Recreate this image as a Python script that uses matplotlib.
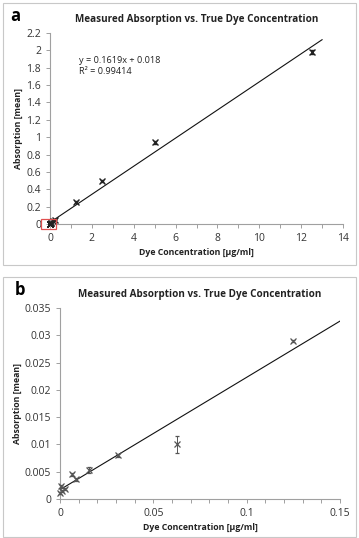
import numpy as np
import matplotlib.pyplot as plt
from matplotlib.patches import Rectangle

plt.rcParams['font.family'] = ['Open Sans', 'DejaVu Sans']

# panel b data (low concentrations)
conc_b = [0.125, 0.0625, 0.03125, 0.0156, 0.0086, 0.0062, 0.0027, 0.0012, 0.0008, 0.0002]
abs_b = [0.0290, 0.0100, 0.0080, 0.0053, 0.0036, 0.0045, 0.0019, 0.0015, 0.0023, 0.0011]
err_b = [0.0002, 0.0016, 0.0003, 0.0006, 0.0003, 0.0003, 0.0002, 0.0002, 0.0003, 0.0002]
fit_b = (0.206, 0.0017)

# panel a data (full range)
conc_a = [12.5, 5.0, 2.5, 1.25, 0.25] + conc_b
abs_a = [1.98, 0.94, 0.495, 0.25, 0.05] + abs_b
err_a = [0.02, 0.02, 0.015, 0.01, 0.005] + err_b
fit_a = (0.1619, 0.018)

title = "Measured Absorption vs. True Dye Concentration"
xlab = "Dye Concentration [µg/ml]"
ylab = "Absorption [mean]"

fig = plt.figure(figsize=(3.59, 5.38), dpi=100)

# panel borders
for (y0, h) in [(1 - 265 / 538, 262 / 538), (1 - 537 / 538, 260 / 538)]:
    fig.patches.append(Rectangle((3 / 359, y0), 353 / 359, h, transform=fig.transFigure,
                                 fill=False, edgecolor='#c8c8c8', lw=0.8))


def style(ax):
    for s in ['top', 'right']:
        ax.spines[s].set_visible(False)
    for s in ['left', 'bottom']:
        ax.spines[s].set_color('#a0a0a0')
        ax.spines[s].set_linewidth(0.8)
    ax.tick_params(which='both', direction='out', color='#a0a0a0', labelsize=7.5,
                   labelcolor='#333333', length=3, width=0.7)
    ax.set_title(title, fontsize=7.1, fontweight='bold', color='#222222', pad=8)
    ax.set_xlabel(xlab, fontsize=6.3, fontweight='bold', color='#222222', labelpad=3)
    ax.set_ylabel(ylab, fontsize=6.3, fontweight='bold', color='#222222', labelpad=2)


# ---- panel a
ax1 = fig.add_axes([50 / 359, 1 - 224 / 538, 293 / 359, 191 / 538])
xs = np.array([0, 13])
ax1.plot(xs, fit_a[0] * xs + fit_a[1], color='#111111', lw=0.8)
ax1.errorbar(conc_a, abs_a, yerr=err_a, fmt='x', color='#222222', ms=3.8, mew=1.0,
             elinewidth=0.7, capsize=1.5, clip_on=False, zorder=5)
ax1.set_xlim(0, 14)
ax1.set_ylim(0, 2.2)
ax1.set_xticks(np.arange(0, 15, 2))
ax1.set_xticks(np.arange(0, 15, 1), minor=True)
ax1.set_yticks(np.round(np.arange(0, 2.3, 0.2), 1))
ax1.set_yticklabels(['0', '0.2', '0.4', '0.6', '0.8', '1', '1.2', '1.4', '1.6', '1.8', '2', '2.2'])
style(ax1)
ax1.add_patch(Rectangle((-0.43, -0.058), 0.72, 0.116, fill=False, edgecolor='#e05050',
                        lw=0.9, clip_on=False, zorder=6))
ax1.text(1.4, 1.82, "y = 0.1619x + 0.018\nR² = 0.99414", fontsize=6.6, color='#222222',
         linespacing=1.4, va='center')
fig.text(10 / 359, 1 - 16 / 538, 'a', fontsize=12, fontweight='bold', va='center')

# ---- panel b
ax2 = fig.add_axes([60 / 359, 1 - 499 / 538, 280 / 359, 191 / 538])
xs = np.array([0, 0.15])
ax2.plot(xs, fit_b[0] * xs + fit_b[1], color='#111111', lw=0.8)
ax2.errorbar(conc_b, abs_b, yerr=err_b, fmt='x', color='#555555', ms=3.8, mew=0.9,
             elinewidth=0.7, capsize=1.5, clip_on=False, zorder=5)
ax2.set_xlim(0, 0.15)
ax2.set_ylim(0, 0.035)
ax2.set_xticks([0, 0.05, 0.1, 0.15])
ax2.set_xticklabels(['0', '0.05', '0.1', '0.15'])
ax2.set_xticks(np.arange(0, 0.151, 0.01), minor=True)
ax2.set_yticks(np.arange(0, 0.0351, 0.005))
ax2.set_yticklabels(['0', '0.005', '0.01', '0.015', '0.02', '0.025', '0.03', '0.035'])
style(ax2)
fig.text(15 / 359, 1 - 290 / 538, 'b', fontsize=12, fontweight='bold', va='center')

fig.savefig('out.png', dpi=100)
